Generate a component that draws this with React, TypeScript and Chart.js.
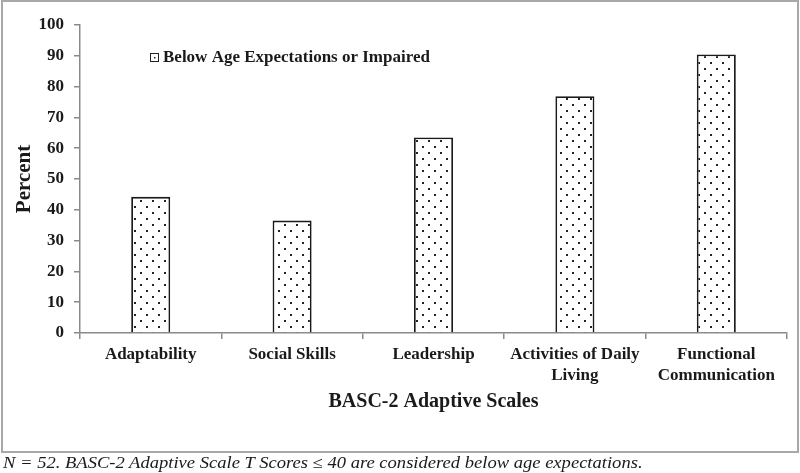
import React, { useEffect, useRef } from "react";
import { Chart, registerables } from "chart.js";

Chart.register(...registerables);

const categories: (string | string[])[] = [
  "Adaptability",
  "Social Skills",
  "Leadership",
  ["Activities of Daily", "Living"],
  ["Functional", "Communication"],
];
const percentBelow: number[] = [44.2, 36.5, 63.5, 76.9, 90.4];
const seriesLabel = "Below Age Expectations or Impaired";
const yTitle = "Percent";
const xTitle = "BASC-2 Adaptive Scales";
const footnote = "N = 52. BASC-2 Adaptive Scale T Scores \u2264 40 are considered below age expectations.";

const SERIF = '"Liberation Serif", "Times New Roman", Times, serif';
const AXIS = "#8a8a8a";
const TEXT = "#1a1a1a";

function makeDotPattern(): CanvasPattern | string {
  const c = document.createElement("canvas");
  c.width = 12;
  c.height = 12;
  const g = c.getContext("2d");
  if (!g) return "#fff";
  g.fillStyle = "#ffffff";
  g.fillRect(0, 0, 12, 12);
  g.fillStyle = "#222";
  g.fillRect(2, 2, 2, 2);
  g.fillRect(8, 8, 2, 2);
  const p = g.createPattern(c, "repeat");
  return p || "#fff";
}

const legendPlugin = {
  id: "innerLegend",
  afterDraw(chart: any) {
    const ctx = chart.ctx as CanvasRenderingContext2D;
    const x = 150;
    const y = 53;
    ctx.save();
    ctx.fillStyle = "#fff";
    ctx.fillRect(x, y, 8, 8);
    ctx.strokeStyle = "#222";
    ctx.lineWidth = 1;
    ctx.strokeRect(x + 0.5, y + 0.5, 8, 8);
    ctx.fillStyle = "#222";
    ctx.fillRect(x + 4, y + 4, 1.5, 1.5);
    ctx.font = `bold 17px ${SERIF}`;
    ctx.fillStyle = TEXT;
    ctx.textAlign = "left";
    ctx.textBaseline = "middle";
    ctx.fillText(chart.data.datasets[0].label, x + 13, y + 5);
    ctx.restore();
  },
};

export default function App() {
  const ref = useRef<HTMLCanvasElement | null>(null);

  useEffect(() => {
    if (!ref.current) return;
    const pattern = makeDotPattern();
    const chart = new Chart(ref.current, {
      type: "bar",
      data: {
        labels: categories as any,
        datasets: [
          {
            label: seriesLabel,
            data: percentBelow,
            backgroundColor: pattern as any,
            borderColor: "#1a1a1a",
            borderWidth: 1.8,
            barPercentage: 0.276,
            categoryPercentage: 1,
          },
        ],
      },
      options: {
        responsive: false,
        animation: false,
        devicePixelRatio: 1,
        layout: { padding: { left: 0, top: 25, right: 13, bottom: 0 } },
        plugins: {
          legend: { display: false },
          tooltip: { enabled: false },
        },
        scales: {
          x: {
            afterFit: (s: any) => {
              s.height = 120;
            },
            grid: {
              display: true,
              drawOnChartArea: false,
              offset: true,
              color: AXIS,
              tickLength: 6,
              lineWidth: 1.5,
            },
            border: { display: true, color: AXIS, width: 1.5 },
            ticks: {
              color: TEXT,
              padding: 5,
              maxRotation: 0,
              autoSkip: false,
              font: { family: SERIF, size: 17, weight: "bold", lineHeight: 1.25 },
            },
            title: {
              display: true,
              text: xTitle,
              color: TEXT,
              font: { family: SERIF, size: 20, weight: "bold" },
              padding: { top: 0, bottom: 39 },
            },
          },
          y: {
            min: 0,
            max: 100,
            afterFit: (s: any) => {
              s.width = 80;
            },
            grid: {
              display: true,
              drawOnChartArea: false,
              color: AXIS,
              tickLength: 6,
              lineWidth: 1.5,
            },
            border: { display: true, color: AXIS, width: 1.5 },
            ticks: {
              stepSize: 10,
              color: TEXT,
              padding: 10,
              font: { family: SERIF, size: 17, weight: "bold" },
            },
            title: {
              display: true,
              text: yTitle,
              color: TEXT,
              font: { family: SERIF, size: 21, weight: "bold" },
              padding: { top: 12, bottom: 0 },
            },
          },
        },
      },
      plugins: [legendPlugin],
    });
    return () => chart.destroy();
  }, []);

  return (
    <div
      style={{
        position: "fixed",
        left: 0,
        top: 0,
        width: 800,
        height: 473,
        background: "#fff",
        overflow: "hidden",
      }}
    >
      <canvas
        ref={ref}
        width={800}
        height={453}
        style={{ position: "absolute", left: 0, top: 0, width: 800, height: 453 }}
      />
      <div
        style={{
          position: "absolute",
          left: 1,
          top: 0,
          width: 798,
          height: 453,
          border: "2px solid #a8a8a8",
          boxSizing: "border-box",
          pointerEvents: "none",
        }}
      />
      <div
        style={{
          position: "absolute",
          left: 3,
          top: 454,
          fontFamily: SERIF,
          fontStyle: "italic",
          fontSize: 16,
          lineHeight: "18px",
          color: TEXT,
          whiteSpace: "nowrap",
          transform: "scaleX(1.16)",
          transformOrigin: "0 0",
        }}
      >
        {footnote}
      </div>
    </div>
  );
}
